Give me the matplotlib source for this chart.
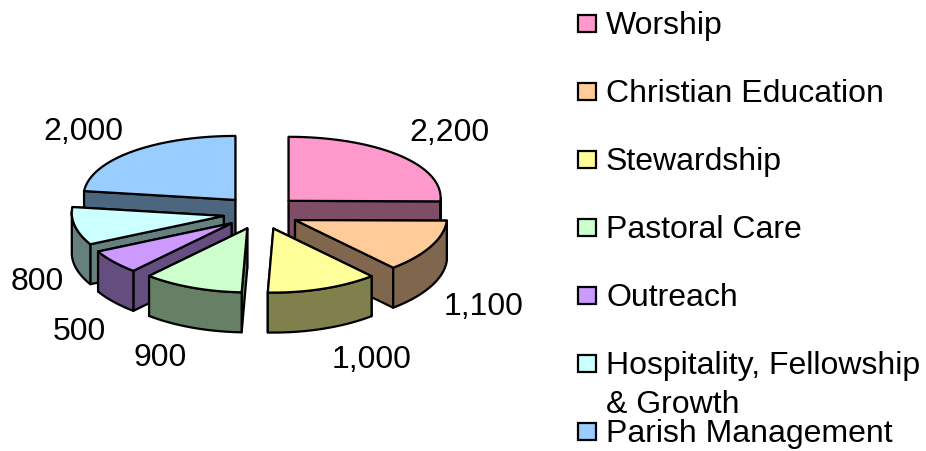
import numpy as np
import matplotlib
matplotlib.use("Agg")
import matplotlib.pyplot as plt
from matplotlib.patches import Polygon, Rectangle

plt.rcParams['font.family'] = ['Liberation Sans', 'DejaVu Sans']

categories = ["Worship", "Christian Education", "Stewardship", "Pastoral Care",
              "Outreach", "Hospitality, Fellowship\n& Growth", "Parish Management"]
values = [2200, 1100, 1000, 900, 500, 800, 2000]
colors = ["#FF99CC", "#FFCC99", "#FFFF99", "#CCFFCC", "#CC99FF", "#CCFFFF", "#99CCFF"]

# layout (figure pixels)
CX, CY = 261, 212.5
RX, RY = 152, 64
EX, EY = 38, 17
FLATTEN = 3
DEPTH = 40
LW = 1.6
FS = 23
label_xy = [(449, 133), (484, 307), (372, 360), (160, 358), (79, 332), (37, 282), (83, 132)]
legend_y = [23, 91, 159, 227, 295, 363, 431]
draw_order = [0, 6, 1, 5, 4, 3, 2]

fig = plt.figure(figsize=(9.26, 4.51), dpi=100)
ax = fig.add_axes([0, 0, 1, 1])
ax.set_xlim(0, 926)
ax.set_ylim(451, 0)
ax.axis("off")

vals = np.array(values, dtype=float)
edges = np.concatenate([[0], np.cumsum(vals)]) / vals.sum() * 2 * np.pi


def darker(c):
    return tuple(v * 0.5 for v in matplotlib.colors.to_rgb(c))


def wall(px, py):
    py = list(py)
    px = list(px)
    return list(zip(px, py)) + list(zip(px[::-1], np.array(py[::-1]) + DEPTH))


for z, i in enumerate(draw_order):
    a0, a1 = edges[i], edges[i + 1]
    mid = (a0 + a1) / 2
    ax0 = CX + EX * np.sin(mid)
    ay0 = CY - EY * np.cos(mid)
    th = np.linspace(a0, a1, 80)
    xs = ax0 + RX * np.sin(th)
    ys = ay0 - RY * np.cos(th) - FLATTEN * np.sin(th) ** 2
    dark = darker(colors[i])

    walls = [(wall([ax0, xs[0]], [ay0, ys[0]]), (ay0 + ys[0]) / 2),
             (wall([ax0, xs[-1]], [ay0, ys[-1]]), (ay0 + ys[-1]) / 2)]
    front = np.cos(th) <= 0.02
    if front.sum() > 1:
        walls.append((wall(xs[front], ys[front]), ay0 + RY))
    for pts, _ in sorted(walls, key=lambda w: w[1]):
        ax.add_patch(Polygon(pts, closed=True, fc=dark, ec="black", lw=LW,
                             joinstyle="round", zorder=z * 3 + 1))
    top = [(ax0, ay0)] + list(zip(xs, ys))
    ax.add_patch(Polygon(top, closed=True, fc=colors[i], ec="black", lw=LW,
                         joinstyle="round", zorder=z * 3 + 2))

for v, (x, y) in zip(values, label_xy):
    ax.text(x, y, f"{v:,}", ha="center", va="center", fontsize=FS, color="black", zorder=50)

for name, c, y in zip(categories, colors, legend_y):
    ax.add_patch(Rectangle((578, y - 8.5), 18, 17, fc=c, ec="black", lw=LW))
    for k, line in enumerate(name.split("\n")):
        ax.text(606, y + 11 + 39 * k, line, ha="left", va="baseline", fontsize=FS, color="black")

fig.savefig("out.png", dpi=100, facecolor="white")
